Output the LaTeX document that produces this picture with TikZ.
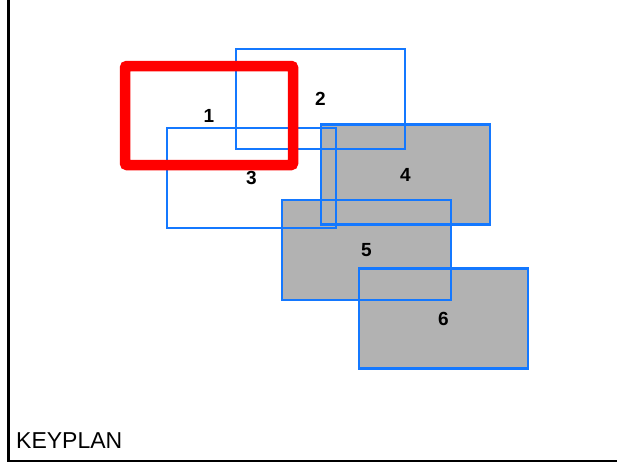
\documentclass[tikz,border=0pt]{standalone}
\usepackage{fontspec}
\setmainfont{Liberation Sans}
\definecolor{planblue}{RGB}{20,120,255}
\definecolor{plangray}{RGB}{178,178,178}
\tikzset{
  shaded/.style={fill=plangray, minimum width=169pt, minimum height=100pt, inner sep=0pt},
  zone/.style={draw=planblue, line width=2.8pt, minimum width=169pt, minimum height=100pt, inner sep=0pt,
    font=\fontsize{19}{19}\selectfont\bfseries},
  current/.style={draw=red, line width=10.5pt, rounded corners=2pt, minimum width=168pt, minimum height=99pt,
    inner sep=0pt, font=\fontsize{19}{19}\selectfont\bfseries}
}
\begin{document}
\begin{tikzpicture}[x=1pt, y=-1pt]
        \useasboundingbox (0,0) rectangle (617,463);
        % Frame
        \coordinate (top) at (8.5,-5);
        \coordinate (corner) at (8.5,461);
        \coordinate (right) at (625,461);
        \draw[line width=2.2pt] (top) -- (corner) -- (right);
        \node (title) [anchor=base west, inner sep=0pt, font=\fontsize{23}{23}\selectfont] at (16,448) {KEYPLAN};

        % Filled zones
        \node (f4) [shaded] at (405.5,174.5) {};
        \node (f5) [shaded] at (366.5,250) {};
        \node (f6) [shaded] at (443.5,318.5) {};

        % Zone outlines
        \node (z2) [zone] at (320.5,99) {2};
        \node (z3) [zone] at (251.5,178) {3};
        \node (z4) [zone] at (405.5,174.5) {4};
        \node (z5) [zone] at (366.5,250) {5};
        \node (z6) [zone] at (443.5,318.5) {6};

        % Current zone
        \node (z1) [current] at (209,115.5) {1};
\end{tikzpicture}
\end{document}
